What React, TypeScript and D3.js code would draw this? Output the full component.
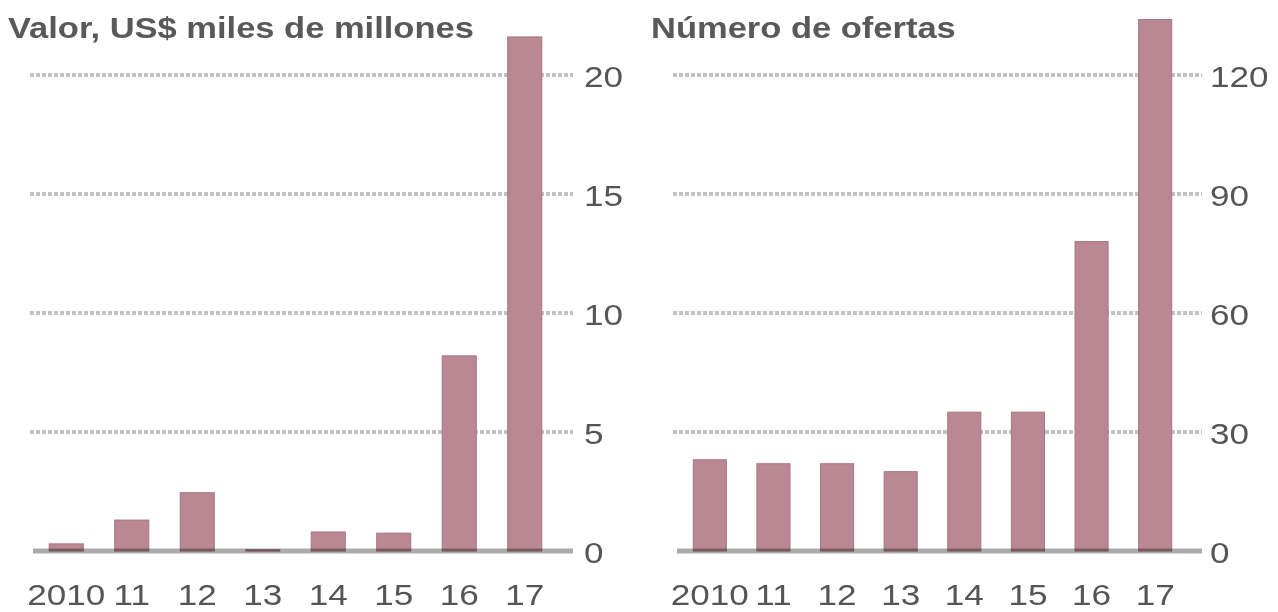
import React from "react";
import { scaleBand, scaleLinear } from "d3";

const years = ["2010", "11", "12", "13", "14", "15", "16", "17"];
const valueBn = [0.3, 1.3, 2.45, 0.05, 0.8, 0.75, 8.2, 21.6];
const dealCount = [23, 22, 22, 20, 35, 35, 78, 134];
const valueTicks = [0, 5, 10, 15, 20];
const countTicks = [0, 30, 60, 90, 120];
const titles = ["Valor, US$ miles de millones", "Número de ofertas"];

const W = 1278;
const H = 612;
const FONT = "'Liberation Sans', Arial, sans-serif";
const SX = 1.17; // the source text is slightly stretched sideways

type PanelProps = {
  title: string;
  titleX: number;
  values: number[];
  ticks: number[];
  max: number;
  gridX: [number, number];
  baseX: [number, number];
  bandX: [number, number];
  labelX: number;
};

function Panel(p: PanelProps) {
  const y = scaleLinear().domain([0, p.max]).range([551, 75]);
  const x = scaleBand<string>()
    .domain(years)
    .range(p.bandX)
    .paddingInner(0.48)
    .paddingOuter(0.24);

  return (
    <g>
      <text
        transform={`translate(${p.titleX},38) scale(1.19,1)`}
        fontFamily={FONT}
        fontWeight="bold"
        fontSize={29}
        fill="#595959"
      >
        {p.title}
      </text>

      {/* dotted grid lines */}
      {p.ticks
        .filter((t) => t !== 0)
        .map((t) => (
          <line
            key={t}
            x1={p.gridX[0]}
            x2={p.gridX[1]}
            y1={y(t)}
            y2={y(t)}
            stroke="#c2c2c2"
            strokeWidth={4}
            strokeDasharray="4 2"
          />
        ))}

      {/* tick labels on the right */}
      {p.ticks.map((t) => (
        <text
          key={t}
          transform={`translate(${p.labelX},${y(t) + 12}) scale(${SX},1)`}
          fontFamily={FONT}
          fontSize={30}
          fill="#555"
        >
          {t}
        </text>
      ))}

      {years.map((yr, i) => (
        <rect
          key={yr}
          x={x(yr)}
          y={y(p.values[i])}
          width={x.bandwidth()}
          height={y(0) - y(p.values[i])}
          fill="#b98892"
          stroke="#a87480"
          strokeWidth={1}
        />
      ))}

      {/* baseline drawn over the bars */}
      <line
        x1={p.baseX[0]}
        x2={p.baseX[1]}
        y1={y(0)}
        y2={y(0)}
        stroke="#ababab"
        strokeWidth={5}
        style={{ mixBlendMode: "multiply" }}
      />

      {years.map((yr) => (
        <text
          key={yr}
          transform={`translate(${(x(yr) ?? 0) + x.bandwidth() / 2},605) scale(${SX},1)`}
          textAnchor="middle"
          fontFamily={FONT}
          fontSize={30}
          fill="#555"
        >
          {yr}
        </text>
      ))}
    </g>
  );
}

export default function App() {
  return (
    <svg
      width={W}
      height={H}
      style={{ position: "absolute", left: 0, top: 0, background: "#fff" }}
    >
      <Panel
        title={titles[0]}
        titleX={8}
        values={valueBn}
        ticks={valueTicks}
        max={20}
        gridX={[30, 573]}
        baseX={[33, 573]}
        bandX={[33.5, 557.5]}
        labelX={584}
      />
      <Panel
        title={titles[1]}
        titleX={651}
        values={dealCount}
        ticks={countTicks}
        max={120}
        gridX={[673, 1202]}
        baseX={[677, 1202]}
        bandX={[678, 1187]}
        labelX={1210}
      />
    </svg>
  );
}
